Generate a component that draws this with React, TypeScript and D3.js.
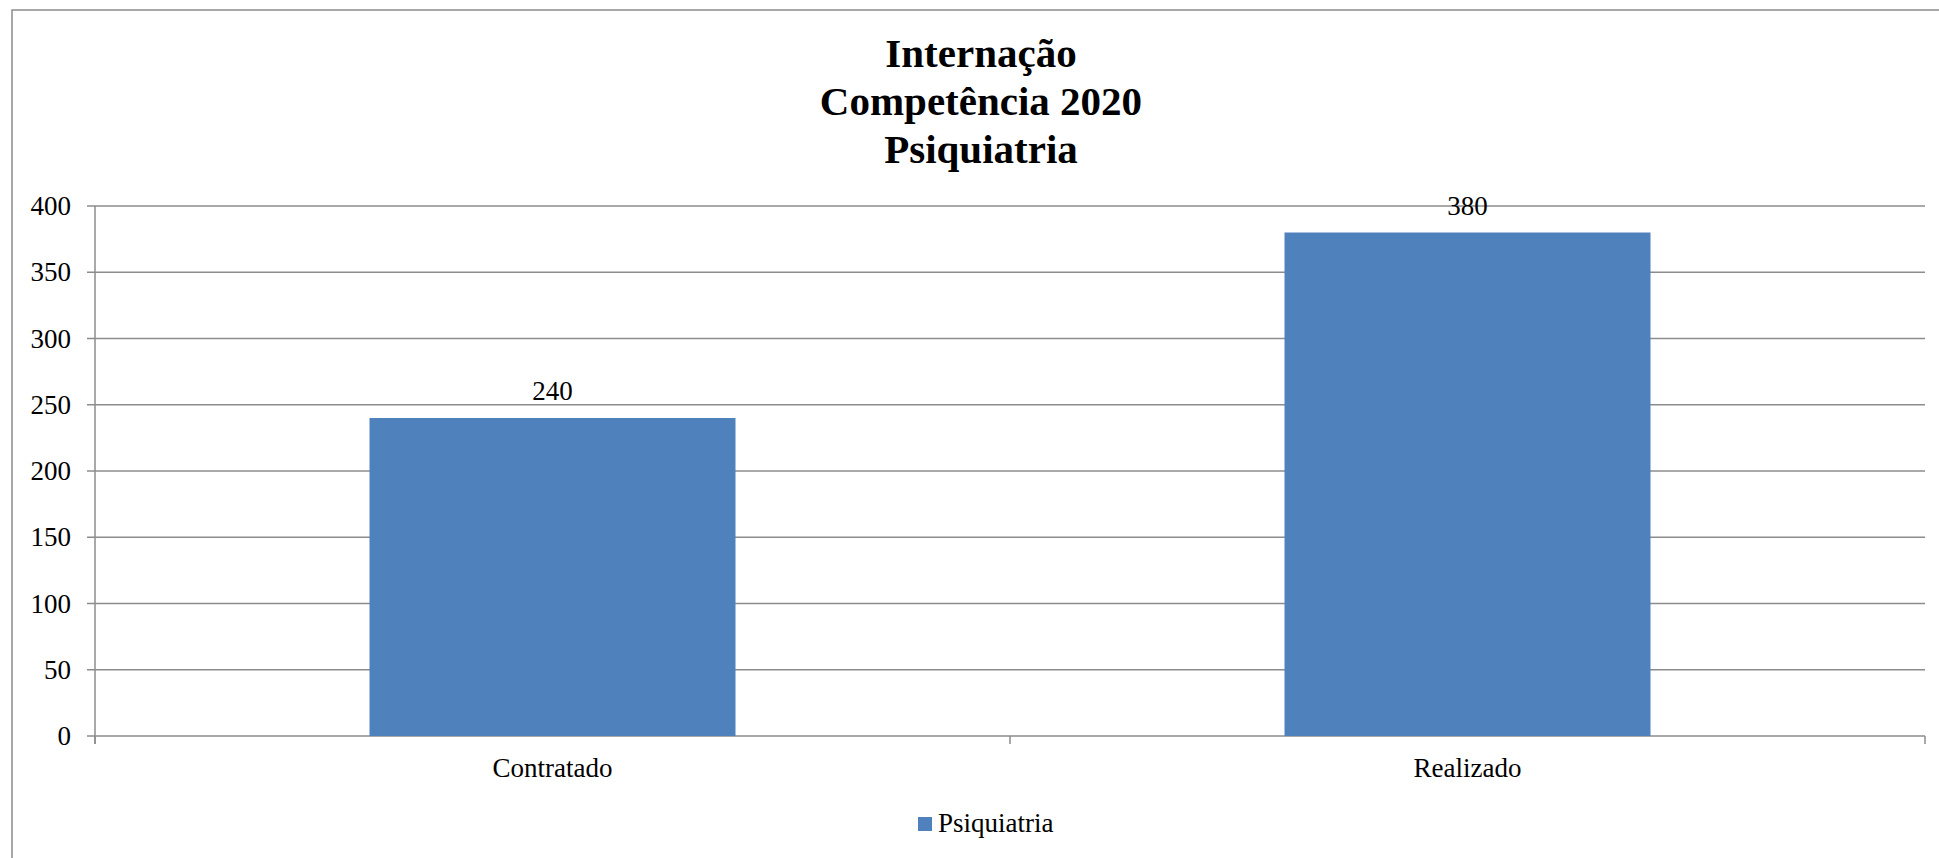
import * as d3 from 'd3';

const categories = ['Contratado', 'Realizado'];
const values = [240, 380];
const yTicks = [0, 50, 100, 150, 200, 250, 300, 350, 400];
const titleLines = ['Internação', 'Competência 2020', 'Psiquiatria'];
const seriesName = 'Psiquiatria';

const width = 1939,
	height = 858;

const plot = { left: 95, right: 1925, top: 206, bottom: 736 };
const barColor = '#4F81BD';
const gridColor = '#8C8C8C';
const serif = { fontFamily: "'Liberation Serif', 'Times New Roman', serif" };

export default function App() {
	const xScale = d3
		.scaleBand<string>()
		.domain(categories)
		.range([plot.left, plot.right])
		.paddingInner(0.6)
		.paddingOuter(0.3);
	const yScale = d3
		.scaleLinear()
		.domain([0, 400])
		.range([plot.bottom, plot.top]);

	// category boundaries for the bottom ticks
	const step = (plot.right - plot.left) / categories.length;
	const boundaries = d3.range(categories.length + 1).map((i) => plot.left + i * step);

	return (
		<svg
			width={width}
			height={height}
			viewBox={`0 0 ${width} ${height}`}
			style={{ position: 'absolute', left: 0, top: 0, display: 'block' }}
		>
			<rect x={0} y={0} width={width} height={height} fill="white" />
			{/* chart border */}
			<rect
				x={12}
				y={10}
				width={1940}
				height={860}
				fill="none"
				stroke="#8C8C8C"
				strokeWidth={1.5}
			/>

			{/* title */}
			<text textAnchor="middle" fontWeight="bold" fontSize={41} fill="black" style={serif}>
				{titleLines.map((t, i) => (
					<tspan key={t} x={981} y={67 + i * 48}>
						{t}
					</tspan>
				))}
			</text>

			{/* gridlines + y axis */}
			<g>
				{yTicks.map((d) => (
					<g key={d} transform={`translate(0, ${yScale(d)})`}>
						<line
							x1={plot.left - 8}
							x2={plot.right}
							y1={0}
							y2={0}
							stroke={gridColor}
							strokeWidth={1.5}
						/>
						<text x={71} y={9} textAnchor="end" fontSize={27} fill="black" style={serif}>
							{d}
						</text>
					</g>
				))}
				<line
					x1={plot.left}
					x2={plot.left}
					y1={plot.top}
					y2={plot.bottom + 8}
					stroke={gridColor}
					strokeWidth={1.5}
				/>
			</g>

			{/* bottom ticks */}
			{boundaries.map((b) => (
				<line
					key={b}
					x1={b}
					x2={b}
					y1={plot.bottom}
					y2={plot.bottom + 8}
					stroke={gridColor}
					strokeWidth={1.5}
				/>
			))}

			{/* bars */}
			{categories.map((c, i) => (
				<g key={c}>
					<rect
						x={xScale(c)!}
						y={yScale(values[i])}
						width={xScale.bandwidth()}
						height={plot.bottom - yScale(values[i])}
						fill={barColor}
					/>
					<text
						x={xScale(c)! + xScale.bandwidth() / 2}
						y={yScale(values[i]) - 18}
						textAnchor="middle"
						fontSize={27}
						fill="black"
						style={serif}
					>
						{values[i]}
					</text>
					<text
						x={xScale(c)! + xScale.bandwidth() / 2}
						y={777}
						textAnchor="middle"
						fontSize={27}
						fill="black"
						style={serif}
					>
						{c}
					</text>
				</g>
			))}

			{/* legend */}
			<rect x={918} y={817} width={14} height={14} fill={barColor} />
			<text x={938} y={832} fontSize={27} fill="black" style={serif}>
				{seriesName}
			</text>
		</svg>
	);
}
